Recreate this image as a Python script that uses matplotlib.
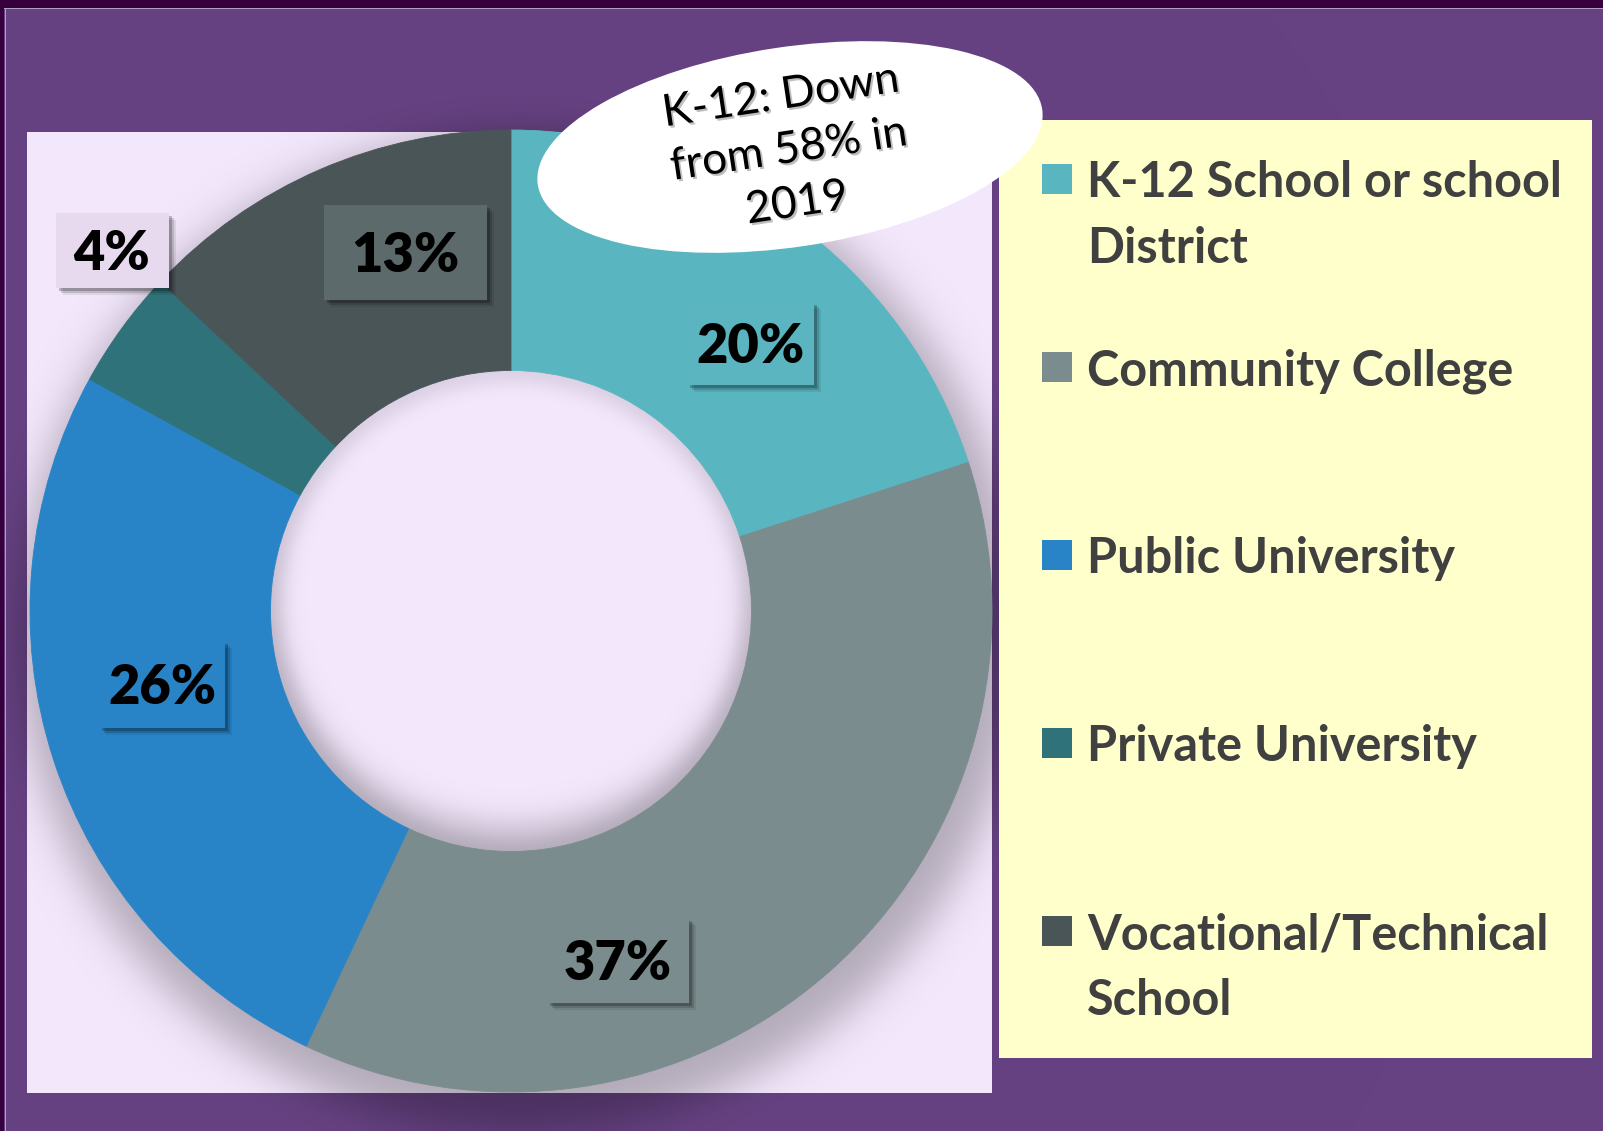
import numpy as np
import matplotlib
matplotlib.use("Agg")
import matplotlib.pyplot as plt
from matplotlib.patches import Rectangle, Ellipse
import matplotlib.patheffects as pe

categories = ["K-12 School or school\nDistrict", "Community College", "Public University",
              "Private University", "Vocational/Technical\nSchool"]
shares = [20, 37, 26, 4, 13]
slice_colors = ["#59b5c0", "#7b8c8e", "#2884c6", "#2f7279", "#4a5557"]
box_colors = ["#5ab5c0", "#7b8c8e", "#2884c6", "#e7daef", "#5c6a6b"]
note = "K-12: Down\nfrom 58% in\n2019"

W, H = 1603, 1131
cx, cy, R = 511, 611, 481

# where the value boxes sit (pixel centre, width, height)
box_layout = [(750, 343, 127, 83), (618, 960, 142, 85), (162, 684, 126, 87),
              (112, 250, 113, 75), (405, 252, 163, 95)]

# ---- background: purple frame, lavender plot area, soft ring shadow
yy, xx = np.mgrid[0:H, 0:W].astype(float)
img = np.empty((H, W, 3))
img[:] = np.array([0x67, 0x42, 0x83]) / 255
area = (xx >= 27) & (xx < 992) & (yy >= 132) & (yy < 1093)
img[area] = np.array([0xf4, 0xe8, 0xfd]) / 255


def sig(t):
    return 1 / (1 + np.exp(-t))


d0 = np.hypot(xx - cx, yy - cy)
d_down = np.hypot(xx - (cx + 8), yy - (cy + 20))
d_up = np.hypot(xx - cx, yy - (cy - 30))
shade_out = sig((500 - d_down) / 13)
shade_in = 0.35 * sig((d0 - 228) / 5) + 0.65 * sig((d_up - 240) / 9)
shade = np.where(d0 < 250, shade_in, shade_out)
img *= (1 - 0.27 * shade)[..., None]

dark = np.array([0x36, 0x00, 0x3f]) / 255
edge = np.array([0xb0, 0xa0, 0xc0]) / 255
img[:8] = dark
img[:, :4] = dark
img[8:9, 4:] = edge
img[8:, 5:6] = edge

fig = plt.figure(figsize=(W / 100, H / 100), dpi=100)
ax_bg = fig.add_axes([0, 0, 1, 1])
ax_bg.imshow(img, extent=(0, W, H, 0), aspect="auto", interpolation="bilinear")
ax_bg.set_xlim(0, W)
ax_bg.set_ylim(H, 0)
ax_bg.axis("off")

# ---- the doughnut
ax = fig.add_axes([(cx - R) / W, 1 - (cy + R) / H, 2 * R / W, 2 * R / H])
wedges, _ = ax.pie(shares, colors=slice_colors, startangle=90, counterclock=False, radius=1,
                   wedgeprops=dict(width=0.5, linewidth=0.6))
for w, c in zip(wedges, slice_colors):
    w.set_edgecolor(c)
ax.set_xlim(-1, 1)
ax.set_ylim(-1, 1)
ax.set_aspect("auto")
ax.axis("off")

# ---- overlay in pixel coordinates
top = fig.add_axes([0, 0, 1, 1])
top.set_xlim(0, W)
top.set_ylim(H, 0)
top.axis("off")
top.patch.set_alpha(0)

for val, col, (bx, by, bw, bh) in zip(shares, box_colors, box_layout):
    for k, a in [(7, 0.08), (5, 0.14), (3, 0.22)]:
        top.add_patch(Rectangle((bx - bw / 2 + k, by - bh / 2 + k), bw, bh,
                                facecolor="black", edgecolor="none", alpha=a))
    top.add_patch(Rectangle((bx - bw / 2, by - bh / 2), bw, bh,
                            facecolor=col, edgecolor="none"))
    top.text(bx, by + 20, f"{val}%", ha="center", va="baseline",
             fontsize=39, fontweight="heavy", family="Lato", color="black")

# legend panel
top.add_patch(Rectangle((999, 120), 593, 938, facecolor="#ffffcc", edgecolor="none"))
first_base, step, line_gap = 197, 188, 66
for i, (name, col) in enumerate(zip(categories, slice_colors)):
    base = first_base + i * step
    top.add_patch(Rectangle((1042, base - 33), 30, 30, facecolor=col, edgecolor="none"))
    for j, line in enumerate(name.split("\n")):
        top.text(1087, base + j * line_gap, line, ha="left", va="baseline",
                 fontsize=35, fontweight="bold", family="Lato", color="#404040")

# callout
top.add_patch(Ellipse((790, 147), 510, 200, angle=-8.5, facecolor="white", edgecolor="none"))
top.text(789, 150, note, ha="center", va="center", multialignment="center",
         rotation=8.5, rotation_mode="anchor", fontsize=32, family="Lato",
         linespacing=1.4, color="black",
         path_effects=[pe.SimplePatchShadow(offset=(1.5, -1.5), shadow_rgbFace="#808080", alpha=0.5),
                       pe.Normal()])

fig.savefig("out.png", dpi=100)
